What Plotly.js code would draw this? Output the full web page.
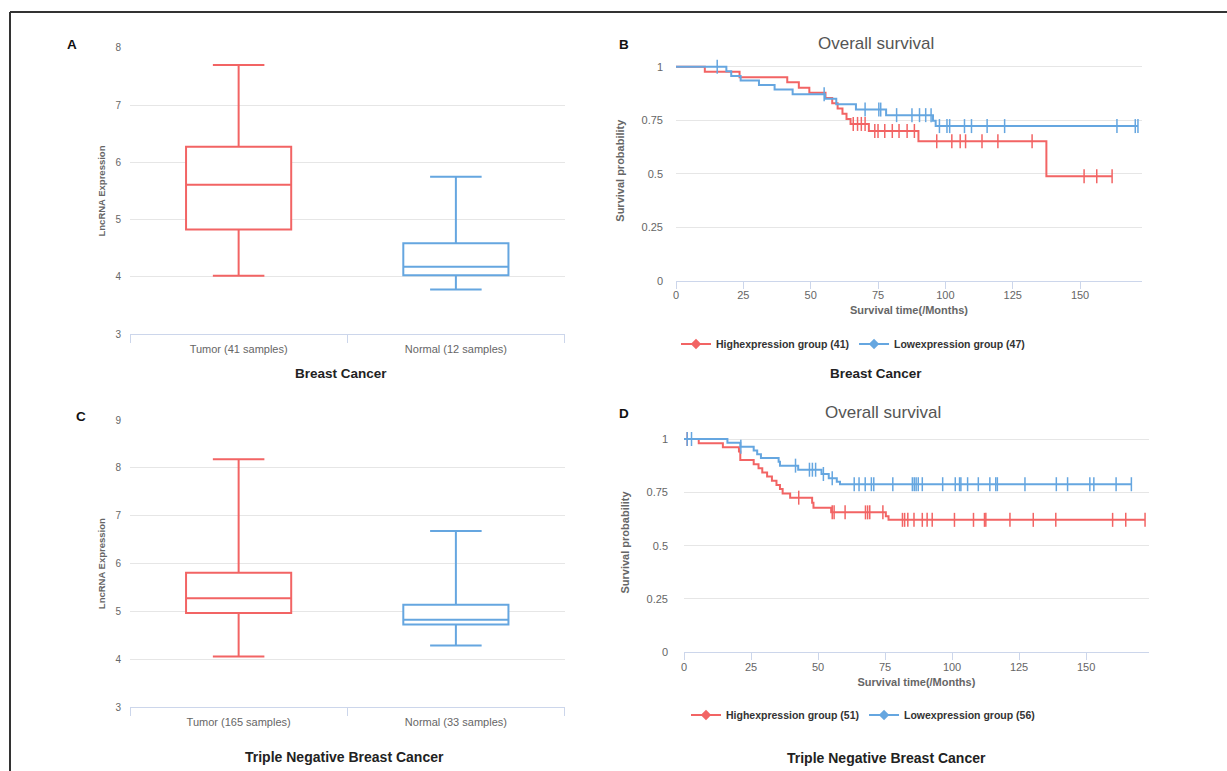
<!DOCTYPE html>
<html>
<head>
<meta charset="utf-8">
<script src="https://cdn.plot.ly/plotly-3.0.1.min.js"></script>
<style>html,body{margin:0;padding:0;background:#fff;}#chart{width:1227px;height:771px;}</style>
</head>
<body>
<div id="chart"></div>
<script>
// ---------- DATA ----------
// Box plots (A: Breast Cancer, C: Triple Negative Breast Cancer)
const boxCatsA = ['Tumor (41 samples)', 'Normal (12 samples)'];
const boxLowA  = [4.02, 3.78];
const boxQ1A   = [4.83, 4.03];
const boxMedA  = [5.61, 4.18];
const boxQ3A   = [6.27, 4.59];
const boxHighA = [7.70, 5.75];

const boxCatsC = ['Tumor (165 samples)', 'Normal (33 samples)'];
const boxLowC  = [4.06, 4.29];
const boxQ1C   = [4.97, 4.73];
const boxMedC  = [5.28, 4.83];
const boxQ3C   = [5.81, 5.14];
const boxHighC = [8.18, 6.68];

// Kaplan-Meier (B: Breast Cancer)
const nameHighB = 'Highexpression group (41)';
const nameLowB  = 'Lowexpression group (47)';
const highB_eventT = [10.7, 23.6, 41.3, 45.6, 49.5, 55.5, 58.0, 60.0, 61.8, 63.3, 64.8, 71.6, 90.0, 137.5];
const highB_eventS = [0.976, 0.951, 0.927, 0.902, 0.878, 0.854, 0.829, 0.805, 0.780, 0.756, 0.733, 0.700, 0.652, 0.489];
const highB_censT  = [65.8, 67.4, 68.8, 70.2, 73.8, 75.0, 77.5, 80.3, 82.8, 85.8, 88.5, 96.8, 102.4, 105.5, 107.5, 113.6, 119.5, 132.2, 151.5, 156.2, 161.9];
const lowB_eventT  = [18.7, 20.5, 24.0, 30.8, 36.6, 43.3, 55.3, 59.5, 66.8, 78.0, 95.4, 96.4];
const lowB_eventS  = [0.979, 0.957, 0.936, 0.915, 0.894, 0.872, 0.850, 0.825, 0.800, 0.774, 0.748, 0.723];
const lowB_censT   = [15.3, 55.0, 70.2, 75.3, 76.0, 81.9, 87.6, 90.4, 92.7, 94.7, 97.8, 100.6, 101.6, 107.1, 109.7, 115.5, 122.0, 163.7, 170.5, 171.5];

// Kaplan-Meier (D: Triple Negative Breast Cancer)
const nameHighD = 'Highexpression group (51)';
const nameLowD  = 'Lowexpression group (56)';
const highD_eventT = [5.5, 14.5, 20.5, 21.0, 26.0, 27.8, 29.2, 31.0, 32.8, 34.5, 35.8, 36.8, 39.6, 47.8, 48.3, 54.9, 75.3, 76.3];
const highD_eventS = [0.980, 0.961, 0.941, 0.902, 0.882, 0.863, 0.843, 0.824, 0.804, 0.784, 0.765, 0.745, 0.725, 0.701, 0.678, 0.656, 0.638, 0.621];
const highD_censT  = [1.2, 42.8, 55.3, 56.0, 60.1, 67.7, 68.5, 69.3, 74.2, 81.5, 82.3, 83.5, 85.8, 88.9, 90.7, 92.6, 100.9, 108.0, 112.1, 112.6, 121.6, 130.3, 138.7, 159.9, 164.8, 172.0];
const lowD_eventT  = [16.2, 21.0, 26.0, 27.3, 28.7, 35.3, 35.8, 42.6, 51.3, 54.0, 57.0, 58.2];
const lowD_eventS  = [0.982, 0.964, 0.946, 0.929, 0.911, 0.893, 0.875, 0.856, 0.836, 0.816, 0.800, 0.788];
const lowD_censT   = [1.2, 2.8, 21.2, 41.6, 46.8, 47.9, 49.1, 52.0, 55.3, 63.5, 65.3, 67.6, 69.9, 70.8, 77.9, 85.2, 85.9, 86.6, 87.4, 88.9, 96.5, 101.2, 102.8, 103.3, 105.8, 109.8, 114.1, 116.3, 116.9, 127.2, 138.9, 143.1, 151.4, 152.9, 161.2, 166.9];

const surYTicks = [0, 0.25, 0.5, 0.75, 1];
const surYText  = ['0', '0.25', '0.5', '0.75', '1'];
const surXTicks = [0, 25, 50, 75, 100, 125, 150];

// ---------- STYLE ----------
const RED = '#f26464';
const BLUE = '#65a6e0';
const FONT = 'Liberation Sans, Arial, sans-serif';
const W = 1227, H = 771;
const px = v => v / W;
const py = v => 1 - v / H;

// ---------- HELPERS ----------
function stepLookup(evT, evS, t) {
  let s = 1;
  for (let i = 0; i < evT.length; i++) { if (evT[i] <= t) s = evS[i]; }
  return s;
}
function kmTraces(evT, evS, censT, color, name, xa, ya, leg) {
  const tEnd = Math.max(...censT, ...evT);
  const lineX = [0].concat(evT, [tEnd]);
  const lineY = [1].concat(evS, [evS[evS.length - 1]]);
  return [
    { type: 'scatter', mode: 'lines', x: lineX, y: lineY, xaxis: xa, yaxis: ya,
      line: { shape: 'hv', color: color, width: 2 }, showlegend: false, hoverinfo: 'skip' },
    { type: 'scatter', mode: 'markers', x: censT, y: censT.map(t => stepLookup(evT, evS, t)),
      xaxis: xa, yaxis: ya, cliponaxis: false,
      marker: { symbol: 'line-ns-open', size: 10, color: color, line: { color: color, width: 1.5 } },
      showlegend: false, hoverinfo: 'skip' },
    { type: 'scatter', mode: 'lines+markers', x: [null], y: [null], xaxis: xa, yaxis: ya,
      name: '<b>' + name + '</b>', legend: leg,
      line: { color: color, width: 2 }, marker: { symbol: 'diamond', size: 8, color: color } }
  ];
}
function boxTrace(cat, lo, q1, med, q3, hi, color, xa, ya) {
  return { type: 'box', x: [cat], lowerfence: [lo], q1: [q1], median: [med], q3: [q3], upperfence: [hi],
    xaxis: xa, yaxis: ya, width: 0.484, whiskerwidth: 0.49, fillcolor: '#ffffff',
    line: { color: color, width: 2 }, showlegend: false, hoverinfo: 'skip' };
}

const data = [];
data.push(boxTrace(boxCatsA[0], boxLowA[0], boxQ1A[0], boxMedA[0], boxQ3A[0], boxHighA[0], RED, 'x', 'y'));
data.push(boxTrace(boxCatsA[1], boxLowA[1], boxQ1A[1], boxMedA[1], boxQ3A[1], boxHighA[1], BLUE, 'x', 'y'));
data.push(boxTrace(boxCatsC[0], boxLowC[0], boxQ1C[0], boxMedC[0], boxQ3C[0], boxHighC[0], RED, 'x3', 'y3'));
data.push(boxTrace(boxCatsC[1], boxLowC[1], boxQ1C[1], boxMedC[1], boxQ3C[1], boxHighC[1], BLUE, 'x3', 'y3'));
data.push(...kmTraces(highB_eventT, highB_eventS, highB_censT, RED, nameHighB, 'x2', 'y2', 'legend'));
data.push(...kmTraces(lowB_eventT, lowB_eventS, lowB_censT, BLUE, nameLowB, 'x2', 'y2', 'legend'));
data.push(...kmTraces(highD_eventT, highD_eventS, highD_censT, RED, nameHighD, 'x4', 'y4', 'legend2'));
data.push(...kmTraces(lowD_eventT, lowD_eventS, lowD_censT, BLUE, nameLowD, 'x4', 'y4', 'legend2'));

const tickGray = '#666666';
function boxX(dom, cats, anchor) {
  return { domain: dom, anchor: anchor, type: 'category', categoryorder: 'array', categoryarray: cats,
    range: [-0.5, 1.5], showline: true, linecolor: '#ccd6eb', linewidth: 1, tickson: 'boundaries',
    ticks: 'outside', ticklen: 8, tickcolor: '#ccd6eb', showgrid: false, zeroline: false,
    ticklabelstandoff: 4,
    tickfont: { family: FONT, size: 11, color: tickGray } };
}
function boxY(dom, rng, anchor) {
  return { domain: dom, anchor: anchor, range: rng, dtick: 1, showline: false, zeroline: false,
    gridcolor: '#e6e6e6', ticks: '', ticklabelstandoff: 8,
    tickfont: { family: FONT, size: 10, color: tickGray },
    title: { text: '<b>LncRNA Expression</b>', font: { family: FONT, size: 9.5, color: tickGray }, standoff: 8 } };
}
function kmX(dom, rng, anchor) {
  return { domain: dom, anchor: anchor, range: rng, tickvals: surXTicks, showline: true, linecolor: '#ccd6eb',
    ticks: 'outside', ticklen: 7, tickcolor: '#ccd6eb', showgrid: false, zeroline: false,
    ticklabelstandoff: -3,
    tickfont: { family: FONT, size: 11, color: tickGray },
    title: { text: '<b>Survival time(/Months)</b>', font: { family: FONT, size: 11, color: tickGray }, standoff: 6 } };
}
function kmY(dom, anchor, lblOff) {
  return { domain: dom, anchor: anchor, range: [0, 1.03], tickvals: surYTicks, ticktext: surYText,
    showline: false, zeroline: false, gridcolor: '#e6e6e6', ticks: '', ticklabelstandoff: lblOff,
    tickfont: { family: FONT, size: 11, color: tickGray },
    title: { text: '<b>Survival probability</b>', font: { family: FONT, size: 11, color: tickGray }, standoff: 14 } };
}

function ann(text, x, y, size, color, bold, anchor) {
  return { text: bold ? '<b>' + text + '</b>' : text, x: px(x), y: py(y), xref: 'paper', yref: 'paper',
    xanchor: anchor || 'center', yanchor: 'middle', showarrow: false,
    font: { family: FONT, size: size, color: color } };
}

const layout = {
  width: W, height: H, margin: { l: 0, r: 0, t: 0, b: 0 },
  paper_bgcolor: '#ffffff', plot_bgcolor: '#ffffff', showlegend: true, boxmode: 'overlay',
  xaxis:  boxX([px(130), px(564.5)], boxCatsA, 'y'),
  yaxis:  boxY([py(334.3), py(47.7)], [3, 8], 'x'),
  xaxis3: boxX([px(130), px(564.5)], boxCatsC, 'y3'),
  yaxis3: boxY([py(707.3), py(420)], [3, 9], 'x3'),
  xaxis2: kmX([px(676), px(1142)], [0, 173], 'y2'),
  yaxis2: kmY([py(281), py(60.3)], 'x2', 12),
  xaxis4: kmX([px(684), px(1148.8)], [0, 173.4], 'y4'),
  yaxis4: kmY([py(652.3), py(432.6)], 'x4', 15),
  legend:  { orientation: 'h', x: px(676), y: py(344), xanchor: 'left', yanchor: 'middle',
             font: { family: FONT, size: 10.5, color: '#333333' }, bgcolor: 'rgba(0,0,0,0)', itemwidth: 30 },
  legend2: { orientation: 'h', x: px(686), y: py(715), xanchor: 'left', yanchor: 'middle',
             font: { family: FONT, size: 10.5, color: '#333333' }, bgcolor: 'rgba(0,0,0,0)', itemwidth: 30 },
  annotations: [
    ann('A', 71.6, 44, 13.5, '#111', true),
    ann('B', 624, 44, 13.5, '#111', true),
    ann('C', 81, 416, 13.5, '#111', true),
    ann('D', 624, 413, 13.5, '#111', true),
    ann('Overall survival', 876, 43.5, 17, '#555555', false),
    ann('Overall survival', 883, 412.5, 17, '#555555', false),
    ann('Breast Cancer', 341, 373.5, 13.5, '#222', true),
    ann('Breast Cancer', 876, 373.5, 13.5, '#222', true),
    ann('Triple Negative Breast Cancer', 344, 757, 14, '#222', true),
    ann('Triple Negative Breast Cancer', 886, 757.5, 14, '#222', true)
  ],
  shapes: [
    { type: 'line', xref: 'paper', yref: 'paper', x0: px(10), x1: 1, y0: py(12), y1: py(12), line: { color: '#333333', width: 2 } },
    { type: 'line', xref: 'paper', yref: 'paper', x0: px(10), x1: px(10), y0: py(12), y1: 0, line: { color: '#333333', width: 2 } }
  ]
};

Plotly.newPlot('chart', data, layout, { staticPlot: true, displayModeBar: false });
</script>
</body>
</html>
